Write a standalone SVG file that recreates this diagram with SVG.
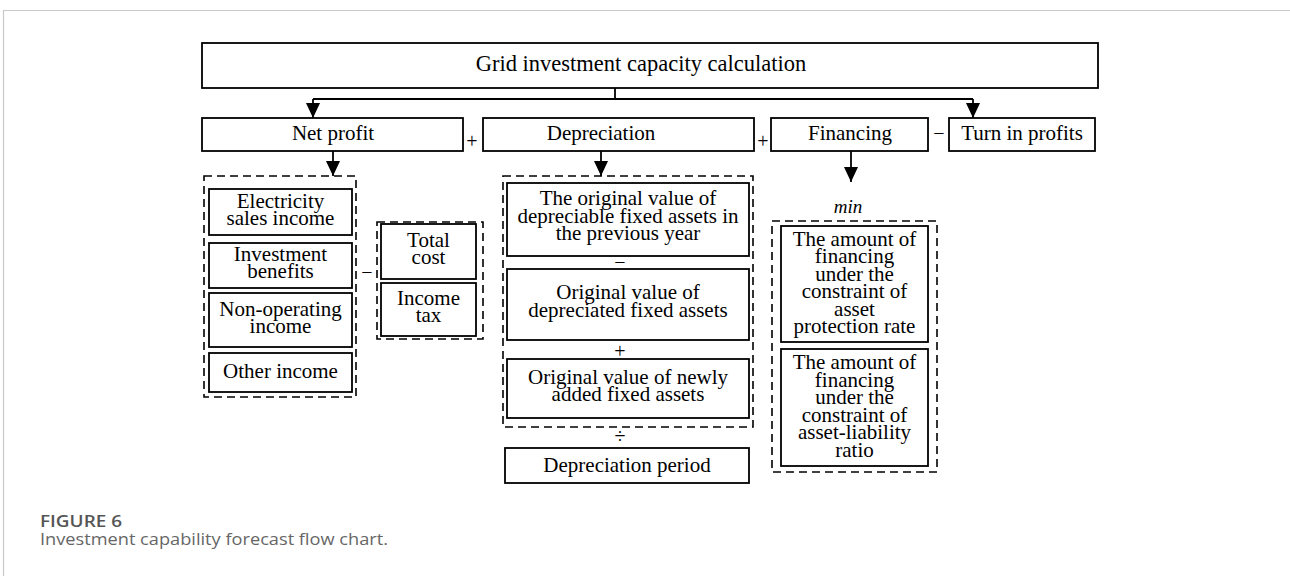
<svg xmlns="http://www.w3.org/2000/svg" width="1290" height="576" viewBox="0 0 1290 576">
<style>
.box{fill:#fff;stroke:#000;stroke-width:1.8}
.dash{fill:none;stroke:#000;stroke-width:1.6;stroke-dasharray:8 5}
.t{font-family:"Liberation Serif","Times New Roman",serif;font-size:21px;fill:#000;text-anchor:middle}
.op{font-family:"Liberation Serif","Times New Roman",serif;font-size:20px;fill:#000;text-anchor:middle}
.con{fill:none;stroke:#000;stroke-width:1.8}
.cap{font-family:"Open Sans","Liberation Sans",sans-serif}
</style>
<defs>
<marker id="ah" viewBox="0 0 15 14" refX="15" refY="7" markerWidth="15" markerHeight="14" markerUnits="userSpaceOnUse" orient="auto">
<path d="M0,0 L15,7 L0,14 Z" fill="#000"/>
</marker>
</defs>
<rect width="1290" height="576" fill="#fff"/>
<path d="M3.5,576 V10.5 H1290" fill="none" stroke="#c8c8c8" stroke-width="1.2"/>

<g id="title">
<rect class="box" x="202" y="43" width="896" height="45"/>
<text class="t" x="641" y="71" style="font-size:22.5px">Grid investment capacity calculation</text>
</g>

<g id="connectors">
<path class="con" d="M615,88 V99 M313,99 H973"/>
<path class="con" d="M313,99 V118" marker-end="url(#ah)"/>
<path class="con" d="M973,99 V118" marker-end="url(#ah)"/>
<path class="con" d="M333,151 V176" marker-end="url(#ah)"/>
<path class="con" d="M601,151 V176" marker-end="url(#ah)"/>
<path class="con" d="M851,151 V182" marker-end="url(#ah)"/>
</g>

<g id="net-profit">
<rect class="box" x="202" y="118" width="261" height="33"/>
<text class="t" x="333" y="140">Net profit</text>
</g>
<text class="op" x="472" y="147.5">+</text>
<g id="depreciation">
<rect class="box" x="483" y="118" width="271" height="33"/>
<text class="t" x="601" y="140">Depreciation</text>
</g>
<text class="op" x="763" y="147.5">+</text>
<g id="financing">
<rect class="box" x="771" y="118" width="157" height="33"/>
<text class="t" x="850" y="140">Financing</text>
</g>
<text class="op" x="939" y="139.5">−</text>
<g id="turn-in-profits">
<rect class="box" x="949" y="118" width="146" height="33"/>
<text class="t" x="1022" y="140">Turn in profits</text>
</g>

<g id="income-group">
<rect class="dash" x="204" y="176" width="152" height="221"/>
<g id="electricity-sales-income">
<rect class="box" x="209" y="189" width="143" height="46"/>
<text class="t" x="280.5" y="207.5">Electricity<tspan x="280.5" y="224.5">sales income</tspan></text>
</g>
<g id="investment-benefits">
<rect class="box" x="209" y="243" width="143" height="45"/>
<text class="t" x="280.5" y="261">Investment<tspan x="280.5" y="278">benefits</tspan></text>
</g>
<g id="non-operating-income">
<rect class="box" x="209" y="293" width="143" height="54"/>
<text class="t" x="280.5" y="315.5">Non-operating<tspan x="280.5" y="332.5">income</tspan></text>
</g>
<g id="other-income">
<rect class="box" x="209" y="353" width="143" height="39"/>
<text class="t" x="280.5" y="378">Other income</text>
</g>
</g>
<text class="op" x="367" y="279">−</text>
<g id="cost-group">
<rect class="dash" x="377" y="222" width="106" height="117"/>
<g id="total-cost">
<rect class="box" x="381" y="224" width="95" height="55"/>
<text class="t" x="428.5" y="247">Total<tspan x="428.5" y="264">cost</tspan></text>
</g>
<g id="income-tax">
<rect class="box" x="381" y="283" width="95" height="53"/>
<text class="t" x="428.5" y="305">Income<tspan x="428.5" y="322">tax</tspan></text>
</g>
</g>

<g id="depreciation-group">
<rect class="dash" x="503" y="176" width="250" height="251"/>
<g id="original-value-previous">
<rect class="box" x="507" y="183" width="242" height="73"/>
<text class="t" x="628" y="205">The original value of<tspan x="628" y="222.5">depreciable fixed assets in</tspan><tspan x="628" y="240">the previous year</tspan></text>
</g>
<text class="op" x="620" y="269">−</text>
<g id="original-value-depreciated">
<rect class="box" x="507" y="269" width="242" height="71"/>
<text class="t" x="628" y="299">Original value of<tspan x="628" y="316.5">depreciated fixed assets</tspan></text>
</g>
<text class="op" x="620" y="358">+</text>
<g id="original-value-new">
<rect class="box" x="507" y="359" width="242" height="59"/>
<text class="t" x="628" y="383.5">Original value of newly<tspan x="628" y="401">added fixed assets</tspan></text>
</g>
</g>
<text class="op" x="620" y="443">÷</text>
<g id="depreciation-period">
<rect class="box" x="505" y="448" width="244" height="35"/>
<text class="t" x="627" y="472">Depreciation period</text>
</g>

<text x="848" y="213" style="font-family:'Liberation Serif',serif;font-size:19px;font-style:italic;text-anchor:middle">min</text>
<g id="financing-group">
<rect class="dash" x="772" y="221" width="165" height="251"/>
<g id="financing-asset-protection">
<rect class="box" x="781" y="226" width="147" height="116"/>
<text class="t" x="854.5" y="246">The amount of<tspan x="854.5" y="263.4">financing</tspan><tspan x="854.5" y="280.8">under the</tspan><tspan x="854.5" y="298.2">constraint of</tspan><tspan x="854.5" y="315.6">asset</tspan><tspan x="854.5" y="333">protection rate</tspan></text>
</g>
<g id="financing-asset-liability">
<rect class="box" x="781" y="349" width="147" height="117"/>
<text class="t" x="854.5" y="369">The amount of<tspan x="854.5" y="386.6">financing</tspan><tspan x="854.5" y="404.2">under the</tspan><tspan x="854.5" y="421.8">constraint of</tspan><tspan x="854.5" y="439.4">asset-liability</tspan><tspan x="854.5" y="457">ratio</tspan></text>
</g>
</g>

<text class="cap" x="40" y="527" textLength="82" lengthAdjust="spacingAndGlyphs" style="font-size:17px;font-weight:600;fill:#555">FIGURE 6</text>
<text class="cap" x="40" y="545" textLength="348" lengthAdjust="spacingAndGlyphs" style="font-size:17px;fill:#666">Investment capability forecast flow chart.</text>
</svg>
